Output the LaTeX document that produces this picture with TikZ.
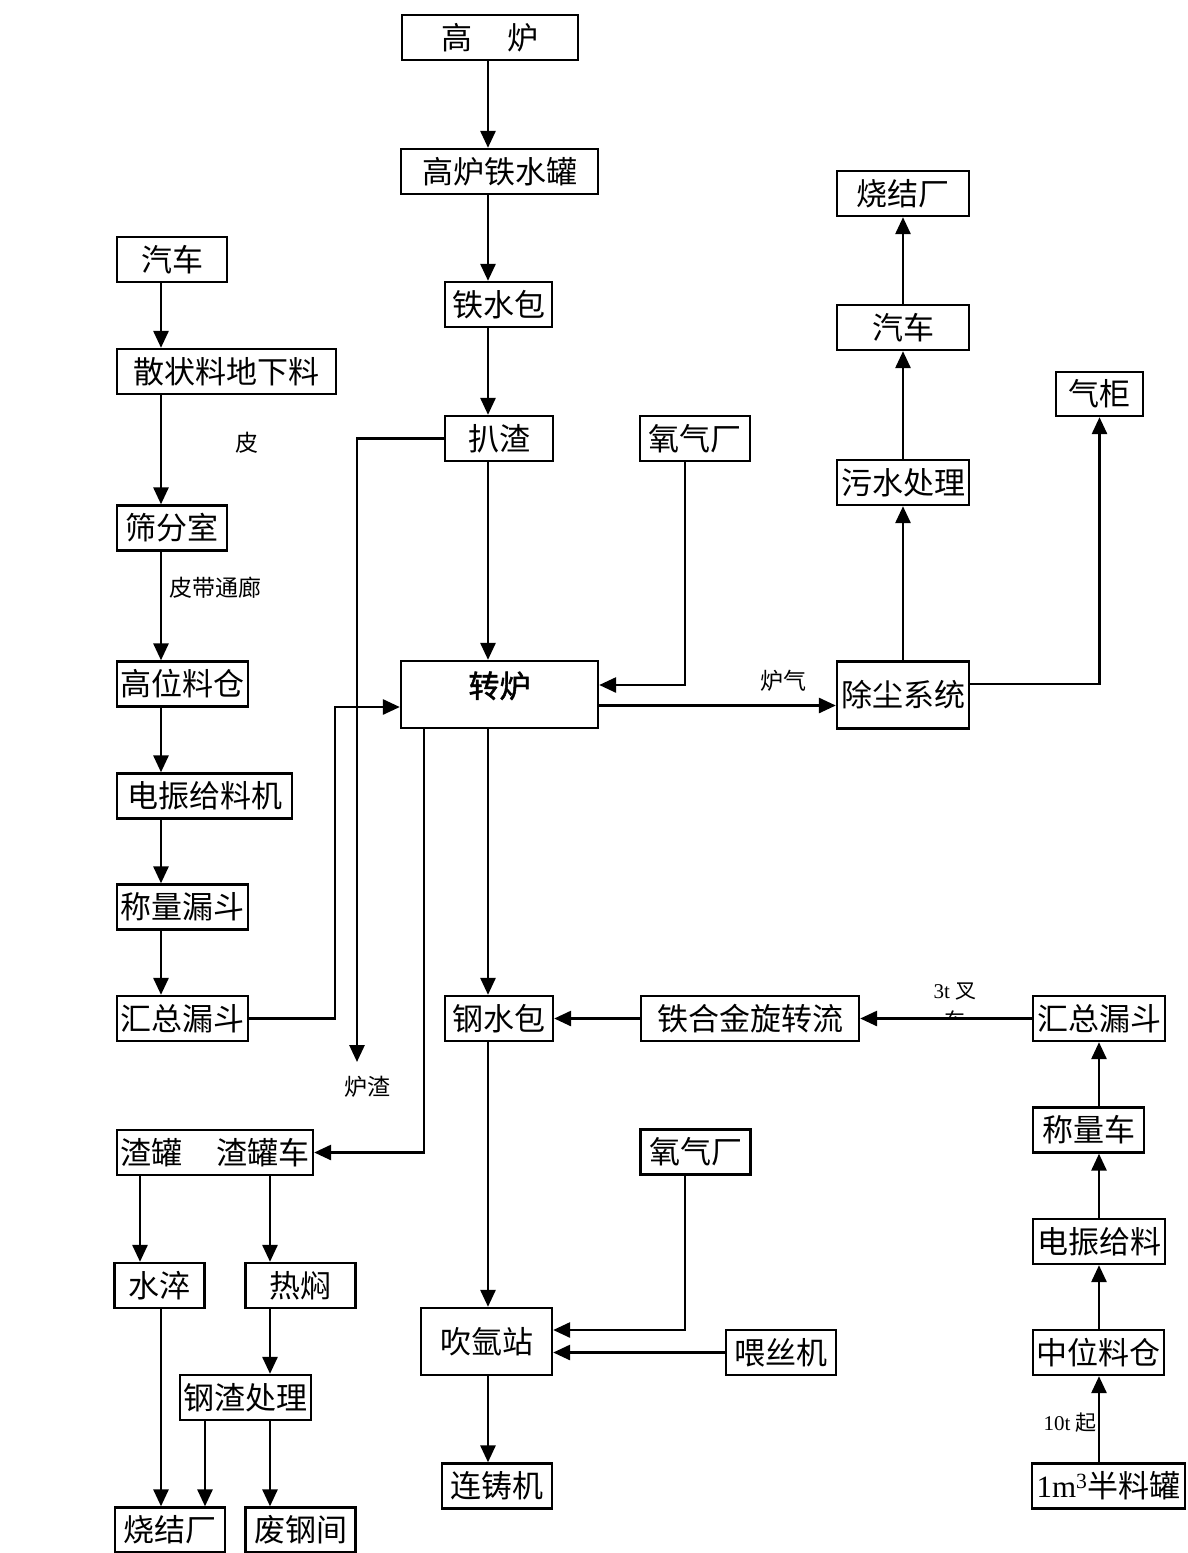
\documentclass[tikz,border=0pt]{standalone}
\usepackage{fontspec}
\setmainfont{Liberation Serif}
\newfontfamily\cjk{Noto Sans CJK SC}
\newfontfamily\cjkb[FakeBold=1.5]{Noto Sans CJK SC}
\newfontfamily\lat{Liberation Serif}
\usetikzlibrary{arrows.meta, calc}

\begin{document}
\begin{tikzpicture}[
  x=1pt, y=-1pt,
  box/.style={draw, line width=2.3pt, inner sep=0pt, minimum height=45pt,
    font=\cjk\fontsize{31}{34}\selectfont},
  arr/.style={-{Triangle[length=17pt,width=15pt]}, line width=2.8pt},
  lab/.style={inner sep=0pt, font=\cjk\fontsize{23}{26}\selectfont},
  small/.style={inner sep=0pt, font=\cjk\fontsize{21}{30}\selectfont, align=center}
]
\useasboundingbox (0,0) rectangle (1187,1553);

% --- column axes for the vertical runs ---
\coordinate (cm) at (488,0);
\coordinate (cl) at (161,0);
\coordinate (cr) at (903,0);
\coordinate (cq) at (1099,0);
\coordinate (cox) at (685,0);
\coordinate (cpz) at (357,0);
\coordinate (cslag) at (424,0);
\coordinate (cloop) at (335,0);
\coordinate (csc) at (140,0);
\coordinate (crm) at (270,0);
\coordinate (cgz) at (205,0);

% --- main line: blast furnace to caster ---
\node[box, minimum width=176pt] (gl)   at (490,37.5)   {高\hspace{1.1em}炉};
\node[box, minimum width=197pt] (gltg) at (499.5,171.5) {高炉铁水罐};
\node[box, minimum width=107pt] (tsb)  at (498.5,304.5) {铁水包};
\node[box, minimum width=108pt] (pz)   at (499,438.5)   {扒渣};
\node[box, minimum width=110pt] (yq1)  at (695,438.5)   {氧气厂};
\node[box, minimum width=197pt, minimum height=67pt, text depth=20pt,
  font=\cjkb\fontsize{31}{34}\selectfont] (zl) at (499.5,694.5) {转炉};
\node[box, minimum width=108pt] (gsb)  at (499,1018.5)  {钢水包};
\node[box, minimum width=218pt] (thj)  at (750,1018.5)  {铁合金旋转流};
\node[box, minimum width=110pt] (yq2)  at (695.5,1152)  {氧气厂};
\node[box, minimum width=131pt, minimum height=67pt] (cyz) at (486.5,1341.5) {吹氩站};
\node[box, minimum width=110pt] (wsj)  at (781,1352.5)  {喂丝机};
\node[box, minimum width=110pt] (lzj)  at (497,1486)    {连铸机};

% --- gas cleaning branch (right) ---
\node[box, minimum width=132pt, minimum height=67pt] (ccxt) at (903,695) {除尘系统};
\node[box, minimum width=132pt] (wscl) at (903,482.5) {污水处理};
\node[box, minimum width=132pt] (qc2)  at (903,327.5) {汽车};
\node[box, minimum width=132pt] (sjc1) at (903,193.5) {烧结厂};
\node[box, minimum width=87pt, minimum height=44pt] (qg) at (1099.5,394) {气柜};

% --- alloy feed (far right) ---
\node[box, minimum width=132pt] (hzld2) at (1099,1018.5)  {汇总漏斗};
\node[box, minimum width=111pt] (clc)   at (1088.5,1130)  {称量车};
\node[box, minimum width=132pt] (zdgl)  at (1099,1241.5)  {电振给料};
\node[box, minimum width=131pt] (zwlc)  at (1098.5,1352.5) {中位料仓};
\node[box, minimum width=153pt] (blg)   at (1108.5,1486)  {{\lat 1m\textsuperscript{3}}半料罐};

% --- bulk material feed (left) ---
\node[box, minimum width=110pt] (qc1)   at (172,259.5)   {汽车};
\node[box, minimum width=219pt] (szl)   at (226.5,371.5) {散状料地下料};
\node[box, minimum width=110pt] (sfs)   at (172,528)     {筛分室};
\node[box, minimum width=131pt] (gwlc)  at (182.5,684)   {高位料仓};
\node[box, minimum width=175pt] (dzgl)  at (204.5,796)   {电振给料机};
\node[box, minimum width=131pt] (clld)  at (182.5,907)   {称量漏斗};
\node[box, minimum width=131pt] (hzld1) at (182.5,1018.5) {汇总漏斗};

% --- slag handling (bottom left) ---
\node[box, minimum width=196pt] (zg)   at (215,1152.5)   {渣罐\hspace{1.1em}渣罐车};
\node[box, minimum width=90pt]  (sc)   at (159.5,1285.5) {水淬};
\node[box, minimum width=110pt] (rm)   at (300.5,1285.5) {热焖};
\node[box, minimum width=131pt] (gzcl) at (245.5,1397.5) {钢渣处理};
\node[box, minimum width=110pt] (sjc2) at (170,1530)     {烧结厂};
\node[box, minimum width=110pt] (fgj)  at (300.5,1530)   {废钢间};

% main line arrows
\draw[arr] (gl.south -| cm) -- (gltg.north -| cm);
\draw[arr] (gltg.south -| cm) -- (tsb.north -| cm);
\draw[arr] (tsb.south -| cm) -- (pz.north -| cm);
\draw[arr] (pz.south -| cm) -- (zl.north -| cm);
\draw[arr] (zl.south -| cm) -- (gsb.north -| cm);
\draw[arr] (gsb.south -| cm) -- (cyz.north -| cm);
\draw[arr] (cyz.south -| cm) -- (lzj.north -| cm);

% oxygen into converter, slag skimming off
\draw[arr] (yq1.south -| cox) |- ([yshift=9.5pt]zl.east);
\coordinate (pzend) at (357,1062);
\draw[arr] (pz.west) -| (pzend);
\node[lab] (lzlab) at (367,1087) {炉渣};

% converter gas to dust removal
\draw[arr] ([yshift=-11pt]zl.east) -- ([yshift=-11pt]zl.east -| ccxt.west);
\node[lab] (lqlab) at (783,681) {炉气};
\draw[arr] (ccxt.north) -- (wscl.south);
\draw[arr] (wscl.north) -- (qc2.south);
\draw[arr] (qc2.north) -- (sjc1.south);
\draw[arr] ([yshift=11pt]ccxt.east) -| (qg.south);

% bulk material column
\draw[arr] (qc1.south -| cl) -- (szl.north -| cl);
\draw[arr] (szl.south -| cl) -- (sfs.north -| cl);
\node[lab] (plab) at (247,443) {皮};
\draw[arr] (sfs.south -| cl) -- (gwlc.north -| cl);
\node[lab] (pdlab) at (215,588) {皮带通廊};
\draw[arr] (gwlc.south -| cl) -- (dzgl.north -| cl);
\draw[arr] (dzgl.south -| cl) -- (clld.north -| cl);
\draw[arr] (clld.south -| cl) -- (hzld1.north -| cl);
\draw[arr] (hzld1.east) -| (cloop |- 0,707) -- ([yshift=-12.5pt]zl.west);

% converter slag to slag pot
\draw[arr] (zl.south -| cslag) |- (zg.east);
\draw[arr] (zg.south -| csc) -- (sc.north -| csc);
\draw[arr] (zg.south -| crm) -- (rm.north -| crm);
\draw[arr] (sc.south -| cl) -- (sjc2.north -| cl);
\draw[arr] (rm.south -| crm) -- (gzcl.north -| crm);
\draw[arr] (gzcl.south -| cgz) -- (sjc2.north -| cgz);
\draw[arr] (gzcl.south -| crm) -- (fgj.north -| crm);

% alloy feed
\draw[arr] (blg.north -| cq) -- (zwlc.south -| cq);
\node[small, anchor=east] (tqlab) at (1097,1423) {{\lat 10t }起};
\draw[arr] (zwlc.north -| cq) -- (zdgl.south -| cq);
\draw[arr] (zdgl.north -| cq) -- (clc.south -| cq);
\draw[arr] (clc.north -| cq) -- (hzld2.south -| cq);
\draw[arr] (hzld2.west) -- (thj.east);
\draw[arr] (thj.west) -- (gsb.east);
\begin{scope}
  \clip (900,960) rectangle (1010,1016);
  \node[small] (chlab) at (955,1006) {{\lat 3t }叉\\车};
\end{scope}

% argon station feeds
\draw[arr] (yq2.south -| cox) |- ([yshift=11.5pt]cyz.east);
\draw[arr] (wsj.west) -- (wsj.west -| cyz.east);

\end{tikzpicture}
\end{document}
